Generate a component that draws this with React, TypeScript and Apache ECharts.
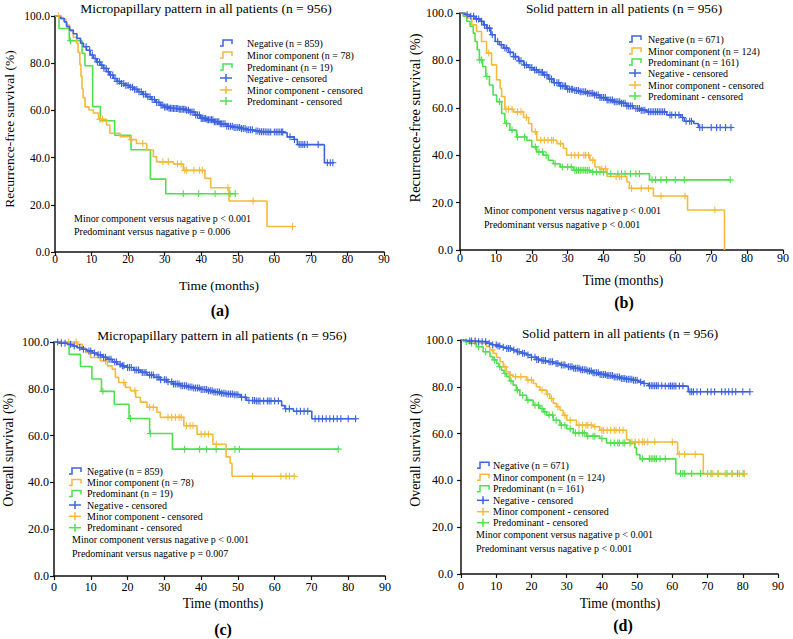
import React, { useEffect, useRef } from 'react';
import * as echarts from 'echarts';

// ---------------- DATA ----------------
const xTicks = [0, 10, 20, 30, 40, 50, 60, 70, 80, 90];
const yTicks = [0, 20, 40, 60, 80, 100];

const legendA = ['Negative (n = 859)', 'Minor component (n = 78)', 'Predominant (n = 19)', 'Negative - censored', 'Minor component - censored', 'Predominant - censored'];
const legendB = ['Negative (n = 671)', 'Minor component (n = 124)', 'Predominant (n = 161)', 'Negative - censored', 'Minor component - censored', 'Predominant - censored'];

const titles = [
  'Micropapillary pattern in all patients (n = 956)',
  'Solid pattern in all patients (n = 956)',
  'Micropapillary pattern in all patients (n = 956)',
  'Solid pattern in all patients (n = 956)',
];
const yNames = ['Recurrence-free survival (%)', 'Recurrence-free survival (%)', 'Overall survival (%)', 'Overall survival (%)'];
const xName = 'Time (months)';
const tags = ['(a)', '(b)', '(c)', '(d)'];
const pTexts = [
  ['Minor component versus nagative p < 0.001', 'Predominant versus nagative p = 0.006'],
  ['Minor component versus nagative p < 0.001', 'Predominant versus nagative p < 0.001'],
  ['Minor component versus nagative p < 0.001', 'Predominant versus nagative p = 0.007'],
  ['Minor component versus nagative p < 0.001', 'Predominant versus nagative p < 0.001'],
];

// Panel (a) RFS micropapillary: [time, survival %] at each drop
const aNegSteps = [[0,100],[1.5,99],[2.5,97.5],[3.2,95.5],[4,94],[5,92.5],[6,90.5],[7,88.5],[7.8,87],[8.6,85.5],[9.6,83.5],[10.5,82],[11.4,80.5],[12.3,79.2],[13.2,77.8],[14.1,76.4],[15,75],[16,73.5],[17,72.3],[17.8,71.4],[19,70.6],[20.3,69.8],[21.5,68.9],[22.7,67.9],[23.9,66.8],[25,65.8],[26.3,64.6],[27.6,63.4],[28.8,62.2],[30,61.4],[31.2,60.9],[32.4,60.8],[34,60.5],[36,60.1],[37,59.3],[38.4,58],[39.8,56.6],[41.5,56],[43.4,55.2],[45.2,54.3],[47,53.3],[48.8,52.8],[50.7,52.3],[52.5,51.8],[54.4,51.3],[56,51],[58,50.9],[62.5,50.5],[63.5,48.8],[65.4,47.7],[66.3,45.5],[73.5,45.3],[73.7,37.8],[76.3,37.8]];
const aNegCensor = [8.5,9.5,10.2,11,11.6,12.2,12.8,13.4,14,14.6,15.2,15.8,16.4,17,17.6,18.2,18.8,19.4,20,20.6,21.2,21.8,22.4,23,23.6,24.2,24.8,25.4,26,26.6,27.2,27.8,28.4,29,29.5,30,30.4,30.8,31.2,31.6,32,32.4,32.8,33.2,33.6,34,34.4,34.8,35.2,35.6,36,36.5,37,37.5,38,38.5,39,39.5,40,40.4,40.8,41.2,41.6,42,42.4,42.8,43.2,43.6,44,44.4,44.8,45.2,45.6,46,46.5,47,47.5,48,48.5,49,49.5,50,50.5,51,51.5,52,52.5,53,53.5,54,55,55.5,56,56.5,57,57.5,58,58.5,59,60,60.5,61,61.5,62,62.3,64.3,65.5,66.8,67.3,67.8,68.3,69,72,74.5,75.3,76];
const aMinSteps = [[0,100],[1.8,98.7],[3,96.2],[4,93.6],[5,91],[5.9,88.5],[6.3,84.6],[6.8,79.5],[7.1,74.4],[7.4,69.2],[7.7,65.4],[8.2,61.5],[9.3,60.2],[10.5,58.9],[11.9,56.2],[14.1,53.8],[15,50.3],[17.8,48.9],[20.5,47.6],[22.3,46],[25.1,43.2],[26.9,40.4],[27.8,38.2],[32.4,37.3],[35.1,34.6],[41,31.2],[42.6,27.2],[47.6,21.6],[58,10.8],[65.1,10.8]];
const aMinCensor = [1,12.3,13,20.8,24,29.5,31,33.5,34.5,35.5,36,38,39.5,40.3,47.3,54.2,65];
const aPreSteps = [[0,100],[1.1,94.7],[3.9,89.5],[7.4,84.2],[8.2,78.9],[10.3,61.6],[12.4,55.6],[16.3,49.5],[20.8,43.3],[26.1,30.9],[30.3,24.7],[49.6,24.7]];
const aPreCensor = [4.2,35.1,39.3,43.8,47.9,49.3];

// Panel (b) RFS solid
const bNegSteps = [[0,100],[1.4,99.3],[2.8,98.6],[4.2,97.5],[5.6,96.5],[6.5,95],[7.4,93.6],[8.6,90.8],[9.8,88],[11,86.6],[12.1,85.2],[13.5,83.4],[14.9,81.6],[16.3,79.8],[17.7,78.1],[19,77],[20.4,76],[21.8,75],[23.2,73.9],[24.6,72.2],[26,70.6],[27.8,69.2],[29.7,67.8],[31.6,67.3],[33.5,66.8],[35.4,66.1],[37.2,65.4],[39,64.3],[40.9,63.3],[42.7,62.6],[44.6,61.9],[46.5,60.8],[48.3,59.7],[50.2,59],[52,58.3],[57.6,57],[61.5,55.9],[62.5,54.3],[65.1,53.4],[66.4,51.7],[76,51.7]];
const bNegCensor = [2,3,3.8,4.6,5.2,6,6.8,7.6,8.2,9,10.5,11.5,12.5,13,14,15,15.5,16.5,17,18,18.5,19.5,20,20.8,21.3,22,22.6,23,23.6,24.2,25,25.5,26.3,27,27.5,28,28.5,29,29.4,30,30.5,31,31.4,32,32.5,33,33.5,34,34.5,35,35.5,36,36.5,37,37.5,38,38.5,39,39.5,40,40.5,41,41.5,42,42.5,43,43.5,44,44.5,45,45.5,46,46.5,47,47.5,48,49,49.5,50,50.5,51,51.5,52.5,53,53.5,54,54.5,55,55.5,56,56.5,57,58.5,59,60,61,62,63,64,64.5,66.8,67.5,70,71.5,72.5,74,75.5];
const bMinSteps = [[0,100],[1.9,97.9],[3.3,95],[4.6,92.2],[6,88],[7.4,83.1],[8.8,78.1],[10.2,71.8],[11.2,68.2],[11.6,64.7],[12.5,59.4],[14.9,58.3],[17.7,55.9],[19.1,53.4],[20,49.9],[21.4,46.3],[27,44.9],[28.8,42.8],[29.7,40],[36.2,37.9],[37.6,35],[39,34.3],[41,31],[46.5,28.7],[47.2,26],[53.9,22.8],[63.4,16.9],[73.7,0]];
const bMinCensor = [8,12.8,13.5,14.5,16,17,18.5,21,22.5,23.5,24.5,25.5,26,28,31,32,33,34.5,35,35.8,37,39.5,40.5,43.5,44.5,45,47.8,50.5,52.5,56,62.7,71];
const bPreSteps = [[0,100],[0.9,98.6],[1.9,96.5],[2.8,94.4],[3.7,91.5],[4.2,88],[4.8,84.5],[5.4,80.2],[6.3,77.4],[7.2,73.2],[8.2,69.6],[9.2,65.4],[10.2,62.6],[11.6,57.6],[12.5,53.4],[13.9,50.6],[15.8,47.7],[18.6,46.3],[20,43.5],[21.4,41.4],[23.2,40],[24.6,37.9],[26,36.4],[27.9,35],[31.6,33.6],[36.2,32.9],[40.9,32.2],[52.8,29.6],[75.3,29.6]];
const bPreCensor = [5.5,6,7.5,11,13,14.5,16,18,21,22,23,24,26.5,28.5,30,31,32,32.5,33,33.5,34,34.5,35,35.5,36,37,38,39,40,42,44,45,46,47.5,49,50,53.5,54.5,56,57.5,60,62.5,75.3];

// Panel (c) OS micropapillary
const cNegSteps = [[0,100],[1.4,99.5],[3.6,99],[5,98.3],[6.3,97.6],[7.6,96.9],[9,96.2],[10.4,95.3],[11.8,94.5],[13.1,93.5],[14.5,92.6],[15.9,91.5],[17.2,90.5],[18.5,89.8],[19.9,89.1],[21.7,88],[23.5,87],[25.3,85.9],[27.1,84.9],[28.9,83.9],[30.7,83],[32.5,82.1],[34.4,81.3],[36.2,80.8],[38,80.3],[39.8,79.7],[41.6,79.2],[43.4,78.6],[45.2,78.1],[47,77.8],[48.8,77.5],[50.6,76.4],[52.4,75],[55,74.8],[61.9,72.8],[62.8,71.5],[65.1,70.4],[70.1,67.2],[82.3,67.2]];
const cNegCensor = [1,2,3,4.5,5.5,7,8,9.5,10,11,12,12.6,13.5,14,15,15.5,16.5,17,18,18.6,19,20,20.5,21,22,22.5,23,24,24.5,25,26,26.5,27,28,28.5,29,30,30.5,31,32,32.5,33,33.5,34,34.5,35,35.5,36,36.5,37,37.5,38,38.5,39,39.5,40,40.5,41,41.5,42,42.5,43,43.5,44,44.5,45,45.5,46,46.5,47,47.5,48,48.5,49,49.5,50,51,52,53,54,54.5,55,55.5,56,57,58,58.5,59,60,61,63,64,66,67,68,69,71,72,73,74,75,76,77,78,80,82];
const cMinSteps = [[0,100],[6.3,99],[7.7,97.5],[8.6,95.5],[9.9,93.4],[12.7,91.9],[14.5,89.8],[15.8,88.4],[16.7,84.9],[17.6,82.7],[19.4,80.6],[20.8,79.2],[22.2,76.4],[23.5,74.3],[25.3,72.1],[28,70],[28.9,67.8],[35.3,64.2],[38.9,60.6],[43.2,56.3],[46.8,50.9],[47.9,48.2],[48.4,42.6],[65.6,42.6]];
const cMinCensor = [2,4,6,12.5,14,19,22,26,27,31,32,33,34,34.6,36,37,37.8,40,41,42,44.1,54,61.7,63.1,64,65.3];
const cPreSteps = [[0,100],[4.1,94.7],[7.2,89.5],[10.3,84.2],[12.9,78.9],[16.4,73.4],[20.4,67.3],[26,60.9],[32.2,54.2],[77.3,54.2]];
const cPreCensor = [13.3,20.8,26.2,35.5,39.6,41.5,44.1,49.2,50.4,77.3];

// Panel (d) OS solid
const dNegSteps = [[0,100],[1.6,99.6],[4.4,99.3],[7.3,98.6],[8.7,98],[10.1,97.4],[11.5,96.9],[12.9,96.4],[14.4,95.7],[15.8,95],[17.2,94.3],[18.6,93.6],[20,92.6],[21.5,91.7],[22.9,91.2],[24.3,90.7],[26.2,90],[28.1,89.3],[30,88.6],[31.9,87.9],[33.8,87.3],[35.6,86.7],[37.5,86],[39.4,85.3],[41.3,84.8],[43.2,84.2],[45.1,83.6],[47,83.2],[48.9,82.8],[50.3,82.1],[51.7,81.4],[53.2,80.5],[58,80.3],[64.5,77.9],[82,77.9]];
const dNegCensor = [2.5,3,4,5,6,7,8,9,10,10.5,11,12,13,13.5,14,15,16,16.5,17.5,18,19,20,21,21.5,22,23,23.5,24,25,25.5,26,27,27.5,28.5,29,29.5,30.5,31,31.5,32,32.5,33,33.5,34,34.5,35,35.5,36,36.5,37,37.5,38,38.5,39,39.5,40,40.5,41,41.5,42,42.5,43,43.5,44,44.5,45,45.5,46,46.5,47,47.5,48,48.5,49,49.5,50,51,52,53.5,54,54.5,55,55.5,56,57,58,59,59.5,60,60.5,61,62,63,65,65.5,66,67,68,70,71,72,74,75,76,77,78,80,82];
const dMinSteps = [[0,100],[3,99.3],[5.4,98.6],[7.3,97.1],[8.2,95.7],[9.2,94.3],[10.1,92.5],[11.1,90.7],[12,88.5],[12.9,86.4],[13.8,85],[14.8,84.3],[18.6,82.9],[20.5,81.4],[21.4,80],[22.4,78.6],[24.3,76.9],[25.2,75],[26.2,72.9],[27.1,71.5],[28.1,70],[29,67.8],[30,65.7],[32.8,63.6],[37.5,62.9],[39.4,61.4],[47,57.4],[47.9,56.4],[61.5,51.2],[68.8,42.8],[80.5,42.8]];
const dMinCensor = [4,9,12.5,14,15.5,17,19,20,23,24.5,25.7,27.5,29.5,31,33.5,34.5,35.5,36,37,38,40,40.5,41.5,42.5,43.5,44,45,46,48.5,49.5,50.5,51.5,52,53,55,60,62,63.5,66.5,70,71.5,73,75,77,79,80.5];
const dPreSteps = [[0,100],[1.1,99.3],[2.6,98.6],[4.4,97.1],[6.3,95],[8.2,92.9],[9.1,91.5],[10.1,90],[10.8,88.6],[11.5,87.1],[12.2,85.7],[12.9,84.3],[13.8,82.5],[14.8,80.7],[15.7,78.6],[16.7,76.4],[18.6,74.3],[20.5,72.1],[22.4,70.7],[23.4,69.3],[24.3,67.9],[26.2,65.7],[28.1,63.6],[30,62.1],[31.9,60.3],[35.6,58.9],[39.4,57.9],[41.3,56],[49.3,54],[49.8,51],[50.8,49.2],[61,42.9],[80.1,42.9]];
const dPreCensor = [1.5,3,5,7,9.5,11,12.5,14.2,16,17.5,19,21,22,23,23.8,25,26,27,28.5,29.5,31,32.5,33.5,34.5,35,36,37.5,38,40,42.5,43.5,44.5,45,46,46.5,48,51.5,53.5,54,54.5,55,55.5,56.5,58,62.3,63,63.5,65.5,68,70,71,73,75.5,77,78.5,80.1];

const panelData = [
  { neg: aNegSteps, negC: aNegCensor, min: aMinSteps, minC: aMinCensor, pre: aPreSteps, preC: aPreCensor, legend: legendA },
  { neg: bNegSteps, negC: bNegCensor, min: bMinSteps, minC: bMinCensor, pre: bPreSteps, preC: bPreCensor, legend: legendB },
  { neg: cNegSteps, negC: cNegCensor, min: cMinSteps, minC: cMinCensor, pre: cPreSteps, preC: cPreCensor, legend: legendA },
  { neg: dNegSteps, negC: dNegCensor, min: dMinSteps, minC: dMinCensor, pre: dPreSteps, preC: dPreCensor, legend: legendB },
];

// ---------------- LAYOUT / STYLE ----------------
const FONT = '"Liberation Serif", "Times New Roman", Times, serif';
const COLORS = ['#3D63DD', '#F4BA3C', '#4FE04F'];
const PLUS = 'path://M4.2,0H5.8V4.2H10V5.8H5.8V10H4.2V5.8H0V4.2H4.2Z';

const layout = [
  { grid: { left: 55, top: 16, width: 329, height: 236 }, tick: 11.5, yM: 5, xM: 1,
    title: [206, 8, 13.5], yName: [9, 129, 13.5], xName: [219, 285, 13.5], tag: [220, 310],
    leg: { ix: 220, tx: 247, ys: [43, 55, 67, 78, 90, 101] }, p: { x: 74, ys: [218, 231] } },
  { grid: { left: 460, top: 13, width: 323, height: 237 }, tick: 12, yM: 7, xM: 2,
    title: [624, 8, 13.3], yName: [415, 118, 14.5], xName: [623, 280, 13.6], tag: [624, 302],
    leg: { ix: 629, tx: 648, ys: [39, 51, 62, 73, 85, 96] }, p: { x: 484, ys: [210, 224] } },
  { grid: { left: 54, top: 342, width: 331, height: 234 }, tick: 12, yM: 5, xM: 5,
    title: [222, 335, 13.4], yName: [8, 450, 13.8], xName: [223, 603, 13.6], tag: [223, 629],
    leg: { ix: 69, tx: 87, ys: [471, 482.5, 493.5, 505, 516.3, 527.7] }, p: { x: 72, ys: [539, 553] } },
  { grid: { left: 461, top: 340, width: 317, height: 234 }, tick: 12, yM: 8, xM: 6,
    title: [620, 333, 13.3], yName: [415, 450, 13.8], xName: [620, 603, 13.6], tag: [623, 625],
    leg: { ix: 477, tx: 493, ys: [465.3, 477.3, 488.7, 500.3, 511.7, 522.7] }, p: { x: 476, ys: [534.3, 548.7] } },
];

function survivalAt(steps: number[][], t: number) {
  let v = steps[0][1];
  for (const s of steps) {
    if (s[0] <= t) v = s[1];
    else break;
  }
  return v;
}

function txt(text: string, x: number, y: number, size: number, opts: any = {}) {
  const align = opts.align || 'center';
  return {
    type: 'text', x, y, rotation: opts.rotation || 0, silent: true,
    style: {
      text, font: `${opts.bold ? 'bold ' : ''}${size}px ${FONT}`, fill: '#000',
      align, verticalAlign: 'middle', textAlign: align, textVerticalAlign: 'middle',
    },
  };
}

function buildOption() {
  const grids: any[] = [];
  const xAxes: any[] = [];
  const yAxes: any[] = [];
  const series: any[] = [];
  const graphic: any[] = [];

  layout.forEach((L, i) => {
    const D = panelData[i];
    grids.push({ ...L.grid, containLabel: false });
    const axisCommon = {
      axisLine: { show: true, onZero: false, lineStyle: { color: '#111', width: 1.5 } },
      axisTick: { show: true, inside: false, length: 4, lineStyle: { color: '#111', width: 1.2 } },
      splitLine: { show: false },
    };
    xAxes.push({
      type: 'value', gridIndex: i, min: xTicks[0], max: xTicks[xTicks.length - 1], interval: 10,
      ...axisCommon,
      axisLabel: { color: '#000', fontFamily: FONT, fontSize: L.tick, margin: L.xM, formatter: (v: number) => String(v) },
    });
    yAxes.push({
      type: 'value', gridIndex: i, min: yTicks[0], max: yTicks[yTicks.length - 1], interval: 20,
      ...axisCommon,
      axisLabel: { color: '#000', fontFamily: FONT, fontSize: L.tick, margin: L.yM, formatter: (v: number) => v.toFixed(1) },
    });

    const groups = [
      { steps: D.neg, cens: D.negC, color: COLORS[0], name: D.legend[0] },
      { steps: D.min, cens: D.minC, color: COLORS[1], name: D.legend[1] },
      { steps: D.pre, cens: D.preC, color: COLORS[2], name: D.legend[2] },
    ];
    [2, 1, 0].forEach((k) => {
      const g = groups[k];
      series.push({
        type: 'line', name: `${tags[i]} ${g.name}`, xAxisIndex: i, yAxisIndex: i,
        data: g.steps, step: 'end', showSymbol: false, symbol: 'none', silent: true,
        lineStyle: { color: g.color, width: 1.6 }, itemStyle: { color: g.color }, z: 2 + (2 - k),
      });
      series.push({
        type: 'scatter', name: `${tags[i]} ${D.legend[3 + k]}`, xAxisIndex: i, yAxisIndex: i,
        data: g.cens.map((t) => [t, survivalAt(g.steps, t)]),
        symbol: PLUS, symbolSize: 7, silent: true,
        itemStyle: { color: g.color, opacity: 1 }, z: 3 + (2 - k),
      });
    });

    graphic.push(txt(titles[i], L.title[0], L.title[1], L.title[2]));
    graphic.push(txt(yNames[i], L.yName[0], L.yName[1], L.yName[2], { rotation: Math.PI / 2 }));
    graphic.push(txt(xName, L.xName[0], L.xName[1], L.xName[2]));
    graphic.push(txt(tags[i], L.tag[0], L.tag[1], 16, { bold: true }));
    L.p.ys.forEach((y, j) => graphic.push(txt(pTexts[i][j], L.p.x, y, 10, { align: 'left' })));

    L.leg.ys.forEach((y, j) => {
      const color = COLORS[j % 3];
      const ix = L.leg.ix;
      if (j < 3) {
        graphic.push({
          type: 'polyline', silent: true,
          shape: { points: [[ix, y + 3], [ix + 3, y + 3], [ix + 3, y - 3], [ix + 12, y - 3], [ix + 12, y + 1]] },
          style: { stroke: color, lineWidth: 1.5, fill: null },
        });
      } else {
        graphic.push({ type: 'line', silent: true, shape: { x1: ix, y1: y, x2: ix + 12, y2: y }, style: { stroke: color, lineWidth: 1.5 } });
        graphic.push({ type: 'line', silent: true, shape: { x1: ix + 6, y1: y - 4, x2: ix + 6, y2: y + 4 }, style: { stroke: color, lineWidth: 1.5 } });
      }
      graphic.push(txt(D.legend[j], L.leg.tx, y, 10, { align: 'left' }));
    });
  });

  return {
    animation: false,
    backgroundColor: '#ffffff',
    grid: grids,
    xAxis: xAxes,
    yAxis: yAxes,
    series,
    graphic: { elements: graphic },
  };
}

export default function App() {
  const ref = useRef<HTMLDivElement>(null);
  useEffect(() => {
    document.body.style.margin = '0';
    if (!ref.current) return;
    const chart = echarts.init(ref.current, undefined, { renderer: 'svg' });
    chart.setOption(buildOption() as any);
    return () => chart.dispose();
  }, []);
  return <div ref={ref} style={{ width: 793, height: 639 }} />;
}
